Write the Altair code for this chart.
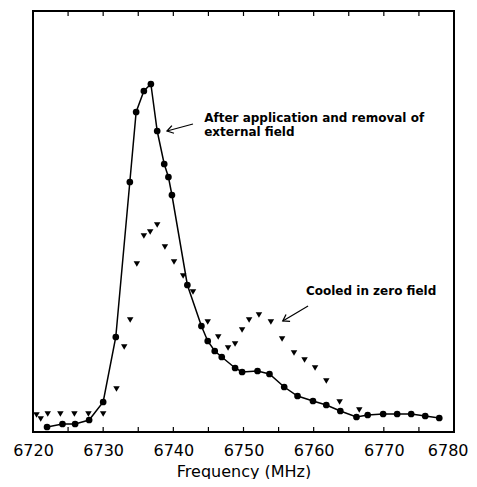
import math
import altair as alt
import pandas as pd

# Field-cooled / after application and removal of external field (circles, joined)
circ_f = [6722.0, 6724.2, 6726.0, 6728.0, 6730.0, 6731.8, 6733.8, 6734.7, 6735.8, 6736.8,
          6737.7, 6738.7, 6739.3, 6739.8, 6742.0, 6744.0, 6744.9, 6745.9, 6746.9, 6748.8,
          6749.8, 6752.0, 6753.7, 6755.8, 6757.7, 6759.9, 6761.8, 6763.8, 6766.1, 6767.7,
          6769.9, 6771.9, 6773.9, 6775.9, 6777.9]
circ_v = [5, 8, 8, 12, 30, 95, 250, 320, 341, 348,
          301, 268, 255, 237, 147, 106, 91, 81, 75, 64,
          60, 61, 58, 45, 36, 31, 27, 21, 15, 17,
          18, 18, 18, 16, 14]

# Cooled in zero field (triangles)
tri_f = [6720.5, 6721.1, 6722.1, 6723.9, 6725.9, 6727.9, 6730.0, 6731.9, 6733.0, 6733.85,
         6734.8, 6735.8, 6736.7, 6737.7, 6738.8, 6740.1, 6741.4, 6742.8, 6744.9, 6746.4,
         6747.8, 6748.8, 6749.8, 6750.8, 6752.2, 6753.9, 6755.5, 6757.2, 6758.7, 6760.2,
         6761.8, 6763.7, 6766.5]
tri_v = [17, 13, 18, 18, 18, 18, 18, 43, 85, 112,
         168, 196, 200, 207, 185, 170, 156, 140, 110, 95,
         84, 88, 102, 112, 117, 110, 93, 79, 72, 64,
         51, 30, 22]

label_vals = [6720, 6730, 6740, 6750, 6760, 6770, 6780]
tick_vals = [6725, 6730, 6735, 6740, 6745, 6750, 6755, 6760, 6765, 6770, 6775]

ann_text = ["After application and removal of", "external field", "Cooled in zero field"]
ann_f = [6744.4, 6744.4, 6758.9]
ann_v = [314, 300, 141]

arrow_tail_f = [6742.8, 6759.2]
arrow_tail_v = [308, 126]
arrow_head_f = [6739.1, 6755.6]
arrow_head_v = [301, 111]

X_DOMAIN = [6720, 6780]
Y_DOMAIN = [0, 421]
W, H = 421, 421

circ = pd.DataFrame({"f": circ_f, "v": circ_v})
tri = pd.DataFrame({"f": tri_f, "v": tri_v})
ann = pd.DataFrame({"f": ann_f, "v": ann_v, "t": ann_text})

px_f = W / (X_DOMAIN[1] - X_DOMAIN[0])
px_v = H / (Y_DOMAIN[1] - Y_DOMAIN[0])
angles = []
for tf, tv, hf, hv in zip(arrow_tail_f, arrow_tail_v, arrow_head_f, arrow_head_v):
    dx = (hf - tf) * px_f
    dy = -(hv - tv) * px_v
    angles.append(math.degrees(math.atan2(-dy, -dx)) % 360)
arrows = pd.DataFrame({"f": arrow_tail_f, "v": arrow_tail_v,
                       "f2": arrow_head_f, "v2": arrow_head_v, "ang": angles})

tick_len = 5
ticks = pd.DataFrame({
    "f": tick_vals + tick_vals,
    "v": [Y_DOMAIN[0]] * len(tick_vals) + [Y_DOMAIN[1] - tick_len] * len(tick_vals),
    "v2": [Y_DOMAIN[0] + tick_len] * len(tick_vals) + [Y_DOMAIN[1]] * len(tick_vals),
})

xscale = alt.Scale(domain=X_DOMAIN, nice=False, zero=False)
yscale = alt.Scale(domain=Y_DOMAIN, nice=False, zero=False)
xaxis = alt.Axis(values=label_vals, ticks=False, domain=False, grid=False, format="d",
                 labelFlush=False, labelOverlap=False,
                 labelAlign={"condition": {"test": "datum.value == 6780", "value": "right"},
                             "value": "center"},
                 labelOffset={"condition": {"test": "datum.value == 6780", "value": 14},
                              "value": 0},
                 labelFont="DejaVu Sans", labelFontSize=16, labelColor="black",
                 labelPadding=10, title="Frequency (MHz)", titleFont="DejaVu Sans",
                 titleFontSize=16, titleFontWeight="normal", titleColor="black",
                 titlePadding=5)

X = alt.X("f:Q", scale=xscale, axis=xaxis)
Y = alt.Y("v:Q", scale=yscale, axis=None)

line = alt.Chart(circ).mark_line(color="black", strokeWidth=1.5).encode(x=X, y=Y)
dots = alt.Chart(circ).mark_point(shape="circle", filled=True, color="black",
                                  size=45, opacity=1).encode(x=X, y=Y)
tris = alt.Chart(tri).mark_point(shape="triangle-down", filled=True, color="black",
                                 size=42, opacity=1).encode(x=X, y=Y)
tick_rules = alt.Chart(ticks).mark_rule(color="black", strokeWidth=1.2).encode(
    x=X, y=Y, y2="v2:Q")
arrow_lines = alt.Chart(arrows).mark_rule(color="black", strokeWidth=1.2).encode(
    x=X, y=Y, x2="f2:Q", y2="v2:Q")
arrow_heads = alt.Chart(arrows).mark_point(
    shape="M1,-0.65L0,0L1,0.65", filled=False, color="black", strokeWidth=1.3,
    size=150, opacity=1).encode(
    x=alt.X("f2:Q", scale=xscale, axis=xaxis),
    y=alt.Y("v2:Q", scale=yscale, axis=None),
    angle=alt.Angle("ang:Q", scale=None))
labels = alt.Chart(ann).mark_text(align="left", baseline="middle", font="DejaVu Sans",
                                  fontSize=12, fontWeight="bold", color="black").encode(
    x=X, y=Y, text="t:N")

chart = alt.layer(line, dots, tris, tick_rules, arrow_lines, arrow_heads, labels).properties(
    width=W, height=H,
    autosize=alt.AutoSizeParams(type="none"),
    padding={"left": 25, "top": 3, "right": 15, "bottom": 47},
).configure_view(stroke="black", strokeWidth=2)

chart.save("out.html", embed_options={"renderer": "svg", "actions": False})
